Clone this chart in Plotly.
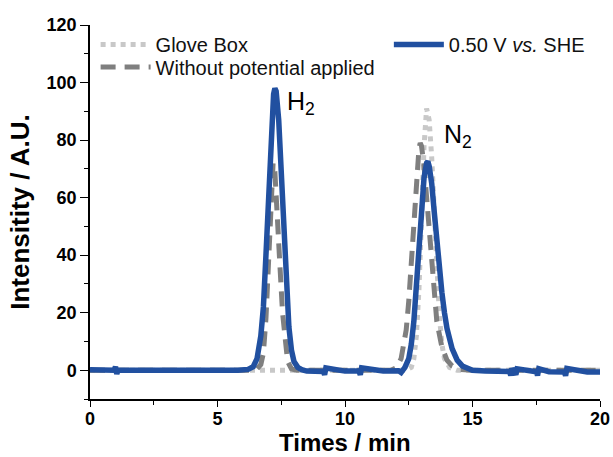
import plotly.graph_objects as go

# ---- data ----
glove_t = [0, 6.0, 12.4, 12.6, 12.7, 12.8, 12.9, 13.0, 13.1, 13.2, 13.3, 13.4, 13.5, 13.6, 13.7, 13.8, 13.9, 14.1, 14.4, 20]
glove_i = [0, 0, 0, 1, 4, 12, 28, 52, 78, 91, 87, 74, 55, 35, 19, 9, 4, 1, 0, 0]

nopot_t = [0, 6.5, 6.7, 6.8, 6.9, 7.0, 7.1, 7.18, 7.25, 7.35, 7.45, 7.55, 7.65, 7.75, 7.9, 8.1,
           11.8, 12.0, 12.2, 12.4, 12.5, 12.6, 12.7, 12.8, 12.9, 12.95, 13.0, 13.1, 13.2, 13.3, 13.4,
           13.5, 13.6, 13.8, 14.0, 14.2, 14.5, 15.0, 20]
nopot_i = [0, 0, 2, 6, 18, 38, 60, 72, 69, 55, 36, 20, 9, 3, 0.5, 0,
           0, 0.8, 4, 14, 24, 38, 54, 68, 77, 79, 78, 71, 60, 47, 35,
           25, 17, 8, 3.5, 1.5, 0.3, 0, 0]

she_t = [0, 0.5, 0.95, 1.0, 1.05, 1.1, 2, 3, 4, 5, 5.8, 6.2, 6.4, 6.55, 6.7, 6.8, 6.9, 7.0,
         7.1, 7.2, 7.25, 7.3, 7.4, 7.5, 7.6, 7.7, 7.8, 7.9, 8.0, 8.15, 8.3, 8.5, 9.0, 9.15,
         9.2, 9.25, 10.0, 10.55, 10.6, 10.65, 11.5, 12.1, 12.2, 12.35, 12.5, 12.6, 12.7, 12.8,
         12.9, 13.0, 13.1, 13.2, 13.25, 13.3, 13.4, 13.5, 13.6, 13.7, 13.8, 13.9, 14.0, 14.2,
         14.4, 14.6, 14.8, 15.0, 15.5, 16.0, 16.45, 16.5, 16.55, 16.7, 16.75, 17.5, 17.55,
         17.6, 18.0, 18.6, 18.65, 18.7, 19.5, 20]
she_i = [0.2, 0.1, 0.0, 1.2, -1.3, 0.0, 0.1, 0.0, -0.1, 0.0, 0.0, 0.3, 1.2, 4, 12, 22, 40, 62,
         84, 96, 98, 97, 87, 68, 47, 28, 15, 7, 3, 1, 0.2, -0.3, -0.4, -0.4,
         -1.6, 0.8, -0.3, -0.3, -1.6, 0.8, -0.3, -0.2, -0.8, 1.0, 4, 9, 17, 29,
         42, 56, 67, 72, 72.5, 71, 65, 55, 44, 35, 27, 20, 14.5, 7.5,
         3.5, 1.5, 0.5, 0.0, -0.3, -0.4, -0.4, -1.8, 0.6, -1.5, 0.5, -0.5, -1.8,
         0.5, -0.5, -0.6, -1.9, 0.6, -0.6, -0.6]

labels = ["Glove Box", "Without potential applied", "0.50 V <i>vs.</i> SHE"]
x_title = "Times / min"
y_title = "Intensitity / A.U."
blue = "#2150a0"

fig = go.Figure()
fig.add_trace(go.Scatter(x=glove_t, y=glove_i, mode="lines", name=labels[0], showlegend=True,
                         line=dict(color="#c8c8c8", width=5, dash="5px,5px"), legend="legend"))
fig.add_trace(go.Scatter(x=nopot_t, y=nopot_i, mode="lines", name=labels[1], showlegend=True,
                         line=dict(color="#7f7f7f", width=5, dash="15px,9px"), legend="legend3"))
fig.add_trace(go.Scatter(x=she_t, y=she_i, mode="lines", name=labels[2], showlegend=True,
                         line=dict(color=blue, width=5.5), legend="legend2"))

tickfont = dict(family="Liberation Sans, Arial", size=18, color="black", weight="bold")
legfont = dict(size=20, color="#111111")

fig.update_layout(
    width=613, height=457,
    showlegend=True,
    margin=dict(l=90, r=13, t=25, b=58),
    paper_bgcolor="white", plot_bgcolor="white",
    font=dict(family="Liberation Sans, Arial", color="black"),
    xaxis=dict(range=[0, 20], dtick=5, showgrid=False, zeroline=False, automargin=False,
               showline=True, linecolor="black", linewidth=1.5,
               ticks="outside", ticklen=6, tickwidth=1.2, tickcolor="black",
               minor=dict(dtick=2.5, ticks="outside", ticklen=4, tickcolor="black"),
               tickfont=tickfont, ticklabelstandoff=-3),
    yaxis=dict(range=[-10, 120], dtick=20, tick0=0, showgrid=False, zeroline=False, automargin=False,
               showline=True, linecolor="black", linewidth=1.5,
               ticks="outside", ticklen=8, tickwidth=1.2, tickcolor="black",
               minor=dict(dtick=10, tick0=0, ticks="outside", ticklen=4, tickcolor="black"),
               tickfont=tickfont,
               title=dict(text=y_title, font=dict(size=26, weight="bold"), standoff=10)),
    xaxis2=dict(overlaying="x", side="top", anchor="y", range=[0, 10], dtick=1, automargin=False,
                showgrid=False, zeroline=False, showline=True, linecolor="#666666", linewidth=1.5,
                ticks="inside", ticklen=5, tickcolor="#444444", showticklabels=False),
    yaxis2=dict(overlaying="y", side="right", anchor="x", range=[0, 10], dtick=1, automargin=False,
                showgrid=False, zeroline=False, showline=True, linecolor="#666666", linewidth=1.5,
                ticks="inside", ticklen=5, tickcolor="#444444", showticklabels=False),
    legend=dict(x=0.011, y=1.0, xanchor="left", yanchor="top", bgcolor="rgba(0,0,0,0)",
                font=legfont, itemwidth=50, visible=True),
    legend3=dict(x=0.011, y=0.94, xanchor="left", yanchor="top", bgcolor="rgba(0,0,0,0)",
                 font=legfont, itemwidth=50),
    legend2=dict(x=0.586, y=1.0, xanchor="left", yanchor="top", bgcolor="rgba(0,0,0,0)",
                 font=legfont, itemwidth=50),
    annotations=[
        dict(x=8.27, y=92.8, xref="x", yref="y", text="H<sub>2</sub>", showarrow=False,
             font=dict(size=25, color="black")),
        dict(x=14.43, y=81.4, xref="x", yref="y", text="N<sub>2</sub>", showarrow=False,
             font=dict(size=25, color="black")),
        dict(x=0.5, y=-0.155, xref="paper", yref="paper", xanchor="center", yanchor="bottom",
             text=x_title, showarrow=False, borderpad=0,
             font=dict(size=24, weight="bold", color="black")),
    ],
)

fig.write_html("out.html")
